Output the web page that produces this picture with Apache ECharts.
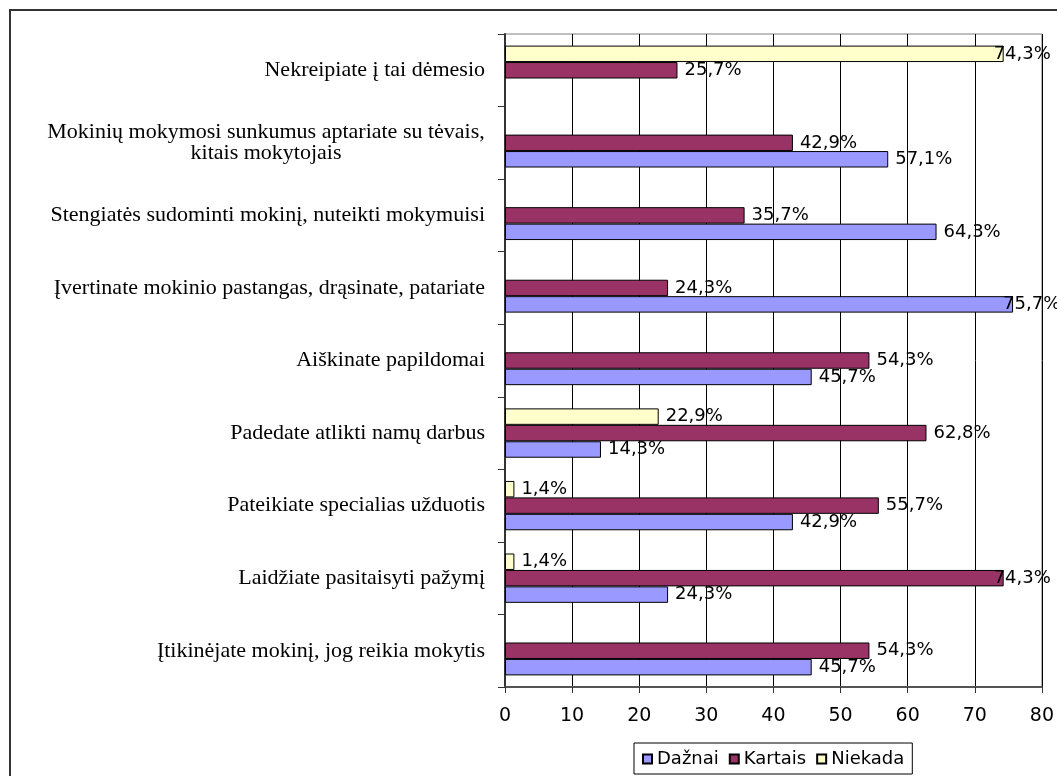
<!DOCTYPE html>
<html>
<head>
<meta charset="utf-8">
<script src="https://cdn.jsdelivr.net/npm/echarts@6/dist/echarts.min.js"></script>
<style>
html, body { margin: 0; padding: 0; background: #fff; }
#chart { width: 1057px; height: 776px; }
</style>
</head>
<body>
<div id="chart"></div>
<script>
const categories = [
  'Įtikinėjate mokinį, jog reikia mokytis',
  'Laidžiate pasitaisyti pažymį',
  'Pateikiate specialias užduotis',
  'Padedate atlikti namų darbus',
  'Aiškinate papildomai',
  'Įvertinate mokinio pastangas, drąsinate, patariate',
  'Stengiatės sudominti mokinį, nuteikti mokymuisi',
  'Mokinių mokymosi sunkumus aptariate su tėvais,\nkitais mokytojais',
  'Nekreipiate į tai dėmesio'
];
const seriesNames = ['Dažnai', 'Kartais', 'Niekada'];
const daznai = [45.7, 24.3, 42.9, 14.3, 45.7, 75.7, 64.3, 57.1, null];
const kartais = [54.3, 74.3, 55.7, 62.8, 54.3, 24.3, 35.7, 42.9, 25.7];
const niekada = [null, 1.4, 1.4, 22.9, null, null, null, null, 74.3];
const xTicks = [0, 10, 20, 30, 40, 50, 60, 70, 80];

const colors = ['#9999FF', '#993366', '#FFFFCC'];

function fmt(v) {
  return v.toFixed(1).replace('.', ',') + '%';
}
function items(arr) {
  return arr.map(function (v) {
    if (v === null) return { value: null, label: { show: false } };
    const o = { value: v };
    if (v > 72) o.label = { offset: [-17, 0] };
    return o;
  });
}

const valueFont = 'DejaVu Sans';
const serifFont = '"Liberation Serif", "Times New Roman", serif';
const catSize = 22;

// width of the first line of multi-line labels so the second line centres under it
const ctx = document.createElement('canvas').getContext('2d');
ctx.font = catSize + 'px "Liberation Serif"';

const chart = echarts.init(document.getElementById('chart'), null, { renderer: 'canvas' });

const seriesData = [daznai, kartais, niekada];
// ECharts places horizontal groups top-down in series order; Excel draws first series at the bottom
const order = [2, 1, 0];
const series = order.map(function (i) {
  return {
    name: seriesNames[i],
    type: 'bar',
    data: items(seriesData[i]),
    barGap: '0%',
    barCategoryGap: '32%',
    itemStyle: { color: colors[i], borderColor: '#000', borderWidth: 1 },
    label: {
      show: true,
      position: 'right',
      distance: 7,
      color: '#000',
      fontFamily: valueFont,
      fontSize: 18,
      formatter: function (p) { return p.value == null ? '' : fmt(p.value); }
    },
    emphasis: { disabled: true },
    animation: false
  };
});

chart.setOption({
  animation: false,
  backgroundColor: '#fff',
  graphic: [{
    type: 'rect',
    shape: { x: 10, y: 10, width: 1100, height: 820 },
    style: { fill: 'none', stroke: '#333', lineWidth: 2 },
    silent: true,
    z: 100
  }],
  grid: {
    left: 505, right: 14, top: 34, bottom: 89,
    show: true, borderColor: '#808080', borderWidth: 1, backgroundColor: 'transparent'
  },
  legend: {
    data: seriesNames,
    left: 634, top: 743,
    orient: 'horizontal',
    itemWidth: 9, itemHeight: 9, itemGap: 10,
    padding: [7, 8, 6, 8],
    borderColor: '#000', borderWidth: 1,
    icon: 'rect',
    textStyle: { fontFamily: valueFont, fontSize: 18, color: '#000' },
    selectedMode: false
  },
  xAxis: {
    type: 'value',
    min: xTicks[0], max: xTicks[xTicks.length - 1], interval: 10,
    axisLine: { show: true, lineStyle: { color: '#555', width: 2 } },
    axisTick: { show: true, length: 6, lineStyle: { color: '#333' } },
    axisLabel: { color: '#000', fontFamily: valueFont, fontSize: 19, margin: 20 },
    splitLine: { show: true, lineStyle: { color: '#000', width: 1 } }
  },
  yAxis: {
    type: 'category',
    data: categories,
    axisLine: { show: true, lineStyle: { color: '#333', width: 2 } },
    axisTick: { show: true, length: 7, lineStyle: { color: '#333' } },
    axisLabel: {
      color: '#000', fontFamily: serifFont, fontSize: catSize, margin: 20, lineHeight: 21,
      formatter: function (v) {
        if (v.indexOf('\n') >= 0) {
          return v.split('\n').map(function (s) { return '{c|' + s + '}'; }).join('\n');
        }
        return v;
      },
      rich: {
        c: {
          width: Math.ceil(ctx.measureText(categories[7].split('\n')[0]).width),
          align: 'center', fontFamily: serifFont, fontSize: catSize, lineHeight: 21, color: '#000'
        }
      }
    },
    splitLine: { show: false }
  },
  series: series
});
</script>
</body>
</html>
